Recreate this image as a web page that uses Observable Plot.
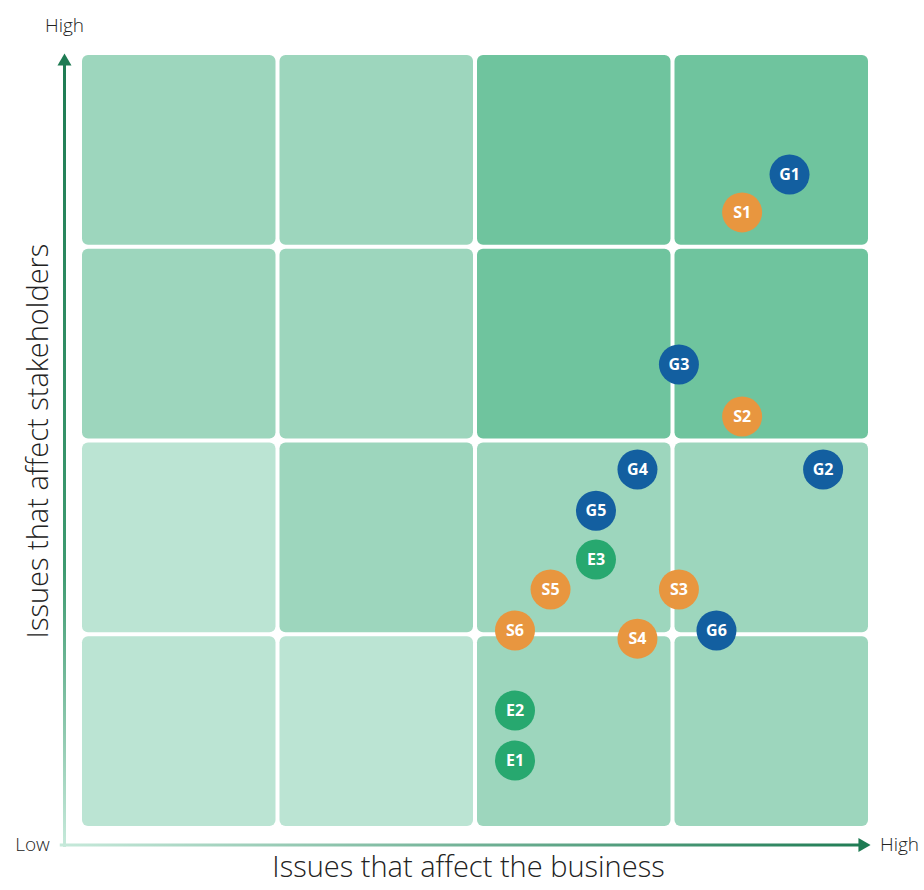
<!DOCTYPE html>
<html><head><meta charset="utf-8">
<script src="https://cdn.jsdelivr.net/npm/d3@7"></script>
<script src="https://cdn.jsdelivr.net/npm/@observablehq/plot@0.6"></script>
<style>body{margin:0;background:#fff} svg{display:block}</style>
</head><body><div id="chart"></div>
<script>
// Grid shading, row 0 = bottom (low stakeholder impact), col 0 = left (low business impact)
const cellShade = [
  ["light", "light", "medium", "medium"],
  ["light", "medium", "medium", "medium"],
  ["medium", "medium", "dark", "dark"],
  ["medium", "medium", "dark", "dark"]
];
const issueLabels = ["G1", "S1", "G3", "S2", "G4", "G2", "G5", "E3", "S5", "S3", "S6", "S4", "G6", "E2", "E1"];
const issueX =      [3.59, 3.35, 3.03, 3.35, 2.82, 3.76, 2.61, 2.61, 2.38, 3.03, 2.20, 2.82, 3.22, 2.20, 2.20];
const issueY =      [3.375, 3.18, 2.395, 2.126, 1.853, 1.853, 1.64, 1.388, 1.234, 1.234, 1.022, 0.98, 1.022, 0.609, 0.351];
const issueGroup = issueLabels.map(l => l[0]);
const axisLowLabel = "Low";
const axisHighLabel = "High";
const xTitle = "Issues that affect the business";
const yTitle = "Issues that affect stakeholders";

const cells = [];
cellShade.forEach((row, r) => row.forEach((shade, c) => cells.push({c, r, shade})));
const issues = issueLabels.map((label, i) => ({label, x: issueX[i], y: issueY[i], group: issueGroup[i]}));

const axisOff = -0.085;
const font = "'Open Sans', Lato, sans-serif";

const chart = Plot.plot({
  width: 924,
  height: 890,
  marginLeft: 80,
  marginRight: 54,
  marginTop: 53,
  marginBottom: 62,
  x: {domain: [0, 4], axis: null},
  y: {domain: [0, 4], axis: null},
  color: {
    domain: ["light", "medium", "dark", "G", "S", "E"],
    range: ["#bbe4d3", "#9dd6bd", "#6fc49e", "#135fa0", "#e8963f", "#27a86f"]
  },
  style: {fontFamily: font, background: "#fff"},
  marks: [
    Plot.rect(cells, {x1: "c", x2: d => d.c + 1, y1: "r", y2: d => d.r + 1, fill: "shade", inset: 2, rx: 6}),
    // axes
    Plot.link([0], {x1: -0.105, x2: 3.95, y1: axisOff, y2: axisOff, stroke: "url(#gx)", strokeWidth: 3, clip: false}),
    Plot.link([0], {x1: -0.081, x2: -0.081, y1: axisOff - 0.01, y2: 3.95, stroke: "url(#gy)", strokeWidth: 3, clip: false}),
    Plot.dot([0], {x: 4, y: axisOff, dx: -8, symbol: "triangle", r: 5.2, fill: "#1e7b53", rotate: 90, stroke: "none"}),
    Plot.dot([0], {x: -0.081, y: 4, dy: 8, symbol: "triangle", r: 5.2, fill: "#1e7b53", stroke: "none"}),
    Plot.text([axisHighLabel], {x: -0.081, y: 4, dy: -28, text: d => d, fontSize: 19, fontWeight: 300, letterSpacing: "0.8px", fill: "#222"}),
    Plot.text([axisLowLabel], {x: -0.081, y: axisOff, dx: -32, text: d => d, fontSize: 19, fontWeight: 300, letterSpacing: "0.8px", fill: "#222"}),
    Plot.text([axisHighLabel], {x: 4, y: axisOff, dx: 29, text: d => d, fontSize: 19, fontWeight: 300, letterSpacing: "0.8px", fill: "#222"}),
    Plot.text([xTitle], {frameAnchor: "bottom", textAnchor: "middle", dy: 48, dx: -7, text: d => d, fontSize: 29, fontWeight: 300, letterSpacing: "1.1px", fill: "#222"}),
    Plot.text([yTitle], {frameAnchor: "left", textAnchor: "middle", dx: -42, rotate: -90, text: d => d, fontSize: 29, fontWeight: 300, letterSpacing: "1.1px", fill: "#222"}),
    // issues
    Plot.dot(issues, {x: "x", y: "y", r: 20, fill: "group", stroke: "none"}),
    Plot.text(issues, {x: "x", y: "y", text: "label", fill: "white", fontWeight: "bold", fontSize: 16, fontFamily: "'Open Sans', sans-serif"})
  ]
});

// gradient definitions for the axis arrows
const sx = chart.scale("x"), sy = chart.scale("y");
const defs = d3.select(chart).insert("defs", ":first-child");
const gx = defs.append("linearGradient").attr("id", "gx").attr("gradientUnits", "userSpaceOnUse")
  .attr("x1", sx.apply(-0.105)).attr("x2", sx.apply(4)).attr("y1", 0).attr("y2", 0);
gx.append("stop").attr("offset", 0).attr("stop-color", "#c6e9da");
gx.append("stop").attr("offset", 1).attr("stop-color", "#1e7b53");
const gy = defs.append("linearGradient").attr("id", "gy").attr("gradientUnits", "userSpaceOnUse")
  .attr("x1", 0).attr("x2", 0).attr("y1", sy.apply(axisOff)).attr("y2", sy.apply(4));
gy.append("stop").attr("offset", 0).attr("stop-color", "#c6e9da");
gy.append("stop").attr("offset", 0.35).attr("stop-color", "#3d9a70");
gy.append("stop").attr("offset", 1).attr("stop-color", "#1e7b53");

document.getElementById("chart").append(chart);
</script>
</body></html>
